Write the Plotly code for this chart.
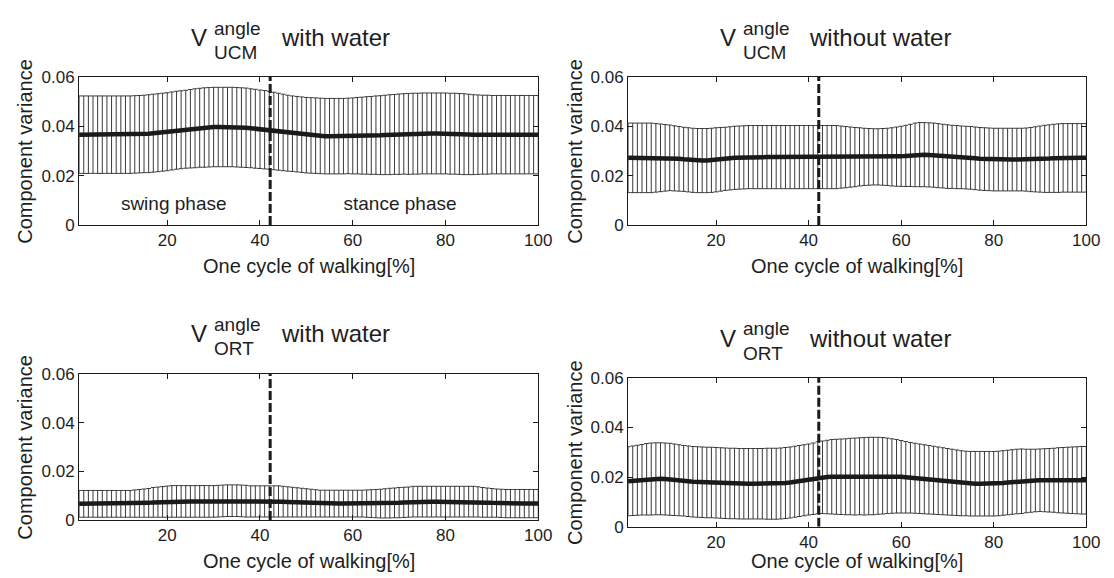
import plotly.graph_objects as go

W, H = 1114, 578

# ---------------- data ----------------
x_pct = list(range(1, 101))
x_tickvals = [20, 40, 60, 80, 100]
y_tickvals = [0, 0.02, 0.04, 0.06]
y_ticktext = ["0", "0.02", "0.04", "0.06"]
phase_boundary = 42.2
phase_labels = ["swing phase", "stance phase"]
phase_label_x = [21.4, 70.2]
phase_label_y = 0.0078

ucm_with_mean = (
    [0.0366] * 12 +
    [0.0367, 0.0368, 0.0369, 0.0370, 0.0372, 0.0374, 0.0376, 0.0378, 0.0381, 0.0384,
     0.0386, 0.0388, 0.0390, 0.0392, 0.0394, 0.0395, 0.0396, 0.0397] +
    [0.0397] * 4 +
    [0.0396, 0.0395, 0.0394, 0.0392, 0.0390, 0.0388, 0.0386, 0.0384, 0.0381, 0.0378,
     0.0375, 0.0372, 0.0370, 0.0368, 0.0366, 0.0364, 0.0363, 0.0362, 0.0361] +
    [0.0360] * 5 +
    [0.0361, 0.0361, 0.0362, 0.0362, 0.0363, 0.0363, 0.0364, 0.0364, 0.0365, 0.0366,
     0.0367, 0.0368, 0.0369, 0.0369, 0.0370, 0.0370] +
    [0.0371] * 6 +
    [0.0370, 0.0370, 0.0369, 0.0368, 0.0367] +
    [0.0366] * 15
)
ucm_with_sd = (
    [0.0157] * 15 +
    [0.0158] * 9 +
    [0.0159, 0.0160, 0.0160, 0.0161, 0.0161] +
    [0.0161] * 8 +
    [0.0160, 0.0160, 0.0159, 0.0159] +
    [0.0158, 0.0157, 0.0156, 0.0155, 0.0154] +
    [0.0153] * 13 +
    [0.0154, 0.0155, 0.0156, 0.0157, 0.0158, 0.0159] +
    [0.0160, 0.0161, 0.0162, 0.0162, 0.0163, 0.0163, 0.0164] +
    [0.0164] * 12 +
    [0.0163, 0.0162, 0.0161, 0.0160, 0.0160, 0.0159] +
    [0.0159] * 10
)

ucm_without_mean = (
    [0.0272] * 10 +
    [0.0270, 0.0268, 0.0266, 0.0264, 0.0262] +
    [0.0261, 0.0261, 0.0261, 0.0262] +
    [0.0264, 0.0266, 0.0268, 0.0270, 0.0272] +
    [0.0273, 0.0274, 0.0275, 0.0275, 0.0275] +
    [0.0275] * 21 +
    [0.0276] * 8 +
    [0.0277, 0.0278, 0.0280, 0.0282, 0.0284] +
    [0.0285, 0.0285, 0.0284, 0.0283] +
    [0.0281, 0.0279, 0.0277, 0.0276, 0.0275, 0.0274, 0.0273] +
    [0.0272, 0.0270, 0.0268, 0.0267, 0.0266] +
    [0.0265] * 9 +
    [0.0266, 0.0267, 0.0268, 0.0269, 0.0270, 0.0271] +
    [0.0272] * 6
)
ucm_without_sd = (
    [0.0141] * 6 +
    [0.0139, 0.0137, 0.0135, 0.0133, 0.0132, 0.0131] +
    [0.0130] * 8 +
    [0.0129, 0.0128, 0.0128, 0.0128, 0.0128] +
    [0.0128] * 21 +
    [0.0126, 0.0124, 0.0122, 0.0120, 0.0118] +
    [0.0116, 0.0115, 0.0114, 0.0114, 0.0115, 0.0116] +
    [0.0118, 0.0120, 0.0122, 0.0124, 0.0126] +
    [0.0129, 0.0130, 0.0130, 0.0130, 0.0130, 0.0130, 0.0129, 0.0129, 0.0128, 0.0128] +
    [0.0127] * 14 +
    [0.0128, 0.0130, 0.0132, 0.0134, 0.0136, 0.0137, 0.0138] +
    [0.0139] * 7
)

ort_with_mean = (
    [0.0066] * 12 +
    [0.0067, 0.0068, 0.0069, 0.0070, 0.0072, 0.0073, 0.0074, 0.0075] +
    [0.0076] * 10 +
    [0.0077, 0.0078, 0.0079, 0.0079, 0.0079, 0.0078, 0.0077] +
    [0.0076] * 7 +
    [0.0075, 0.0074, 0.0073, 0.0072, 0.0071, 0.0070, 0.0069, 0.0068] +
    [0.0067] * 14 +
    [0.0068, 0.0069, 0.0070, 0.0071, 0.0072, 0.0073] +
    [0.0075] * 14 +
    [0.0074, 0.0072, 0.0071, 0.0070, 0.0069, 0.0068] +
    [0.0067] * 8
)
ort_with_sd = (
    [0.0055] * 12 +
    [0.0056, 0.0057, 0.0058, 0.0059, 0.0061, 0.0062, 0.0063, 0.0064] +
    [0.0065] * 17 +
    [0.0064] * 7 +
    [0.0063, 0.0062, 0.0061, 0.0060, 0.0059, 0.0058, 0.0057, 0.0056] +
    [0.0055] * 10 +
    [0.0056, 0.0057, 0.0058, 0.0059, 0.0060, 0.0061, 0.0061, 0.0062, 0.0062, 0.0062] +
    [0.0063] * 14 +
    [0.0062, 0.0061, 0.0060, 0.0059, 0.0058, 0.0058] +
    [0.0058] * 8
)

ort_without_mean = (
    [0.0183, 0.0185, 0.0187, 0.0189] +
    [0.0191, 0.0192, 0.0193, 0.0193, 0.0192, 0.0191, 0.0189] +
    [0.0187, 0.0185, 0.0183, 0.0181, 0.0180] +
    [0.0179, 0.0178, 0.0178, 0.0177, 0.0176, 0.0175, 0.0174, 0.0174, 0.0173, 0.0173] +
    [0.0173] * 7 +
    [0.0174, 0.0176, 0.0178, 0.0181, 0.0184, 0.0187, 0.0190, 0.0193] +
    [0.0197, 0.0199, 0.0200] +
    [0.0201, 0.0201, 0.0201, 0.0201, 0.0202, 0.0202, 0.0203, 0.0203, 0.0204, 0.0204] +
    [0.0205, 0.0205, 0.0205, 0.0204] +
    [0.0203, 0.0201, 0.0199, 0.0197, 0.0195, 0.0193, 0.0191, 0.0189] +
    [0.0187, 0.0185, 0.0183, 0.0181, 0.0179, 0.0177, 0.0175, 0.0174] +
    [0.0173] * 6 +
    [0.0174, 0.0176, 0.0178, 0.0180, 0.0182, 0.0183, 0.0184, 0.0185, 0.0186] +
    [0.0187] * 11
)
ort_without_sd = (
    [0.0139, 0.0140, 0.0141, 0.0142] +
    [0.0144, 0.0145, 0.0145, 0.0145, 0.0145, 0.0145, 0.0144, 0.0143] +
    [0.0142] * 18 +
    [0.0143] * 10 +
    [0.0144, 0.0145, 0.0146, 0.0148, 0.0150, 0.0151] +
    [0.0152, 0.0153, 0.0154, 0.0155, 0.0155, 0.0156, 0.0156, 0.0156, 0.0155, 0.0154, 0.0152] +
    [0.0150, 0.0148, 0.0146, 0.0144, 0.0142, 0.0141, 0.0140, 0.0139, 0.0138] +
    [0.0137, 0.0136, 0.0135, 0.0134, 0.0133, 0.0132, 0.0131, 0.0130] +
    [0.0130] * 12 +
    [0.0128, 0.0127, 0.0126, 0.0126, 0.0127, 0.0128, 0.0129] +
    [0.0131, 0.0132, 0.0133, 0.0134, 0.0135, 0.0136, 0.0136]
)

# ---------------- layout helpers ----------------
FONT = "Liberation Sans, Arial, Helvetica, sans-serif"
TXT = "#1e1e1e"


def px_x(p):
    return p / W


def px_y(p):
    return 1 - p / H


panels = [
    dict(mean=ucm_with_mean, sd=ucm_with_sd, sub="UCM", cond="with water",
         box=(72, 537, 62, 215), vx=193.5, sx=207, cx=274, ty=21.5, phases=True, ytx=17, xty=257),
    dict(mean=ucm_without_mean, sd=ucm_without_sd, sub="UCM", cond="without water",
         box=(628, 1092, 62, 215), vx=729, sx=742, cx=809, ty=21.5, phases=False, ytx=574, xty=257),
    dict(mean=ort_with_mean, sd=ort_with_sd, sub="ORT", cond="with water",
         box=(72, 537, 369, 520), vx=193.5, sx=207, cx=274, ty=327.5, phases=False, ytx=17, xty=563),
    dict(mean=ort_without_mean, sd=ort_without_sd, sub="ORT", cond="without water",
         box=(628, 1092, 373, 527), vx=729, sx=742, cx=809, ty=332.5, phases=False, ytx=574, xty=562),
]

fig = go.Figure()
annotations = []
layout_axes = {}

for i, p in enumerate(panels, start=1):
    xa = "x" if i == 1 else f"x{i}"
    ya = "y" if i == 1 else f"y{i}"
    xkey = "xaxis" if i == 1 else f"xaxis{i}"
    ykey = "yaxis" if i == 1 else f"yaxis{i}"
    l, r, t, b = p["box"]

    # error bars (mean +/- sd)
    fig.add_trace(go.Scatter(
        x=x_pct, y=p["mean"], mode="markers", xaxis=xa, yaxis=ya,
        marker=dict(size=1, color="rgba(0,0,0,0)"),
        error_y=dict(type="data", array=p["sd"], visible=True,
                     color="#3a3a3a", thickness=1, width=2.35),
        showlegend=False, hoverinfo="skip"))
    # mean line
    fig.add_trace(go.Scatter(
        x=x_pct, y=p["mean"], mode="lines", xaxis=xa, yaxis=ya,
        line=dict(color="#1a1a1a", width=4.5), showlegend=False))
    # phase boundary
    fig.add_trace(go.Scatter(
        x=[phase_boundary, phase_boundary], y=[y_tickvals[0], y_tickvals[-1]],
        mode="lines", xaxis=xa, yaxis=ya,
        line=dict(color="#1a1a1a", width=3, dash="9px,3px"), showlegend=False))

    if p["phases"]:
        fig.add_trace(go.Scatter(
            x=phase_label_x, y=[phase_label_y] * 2, mode="text", text=phase_labels,
            textfont=dict(family=FONT, size=19, color=TXT), xaxis=xa, yaxis=ya,
            showlegend=False))

    common = dict(showline=True, linecolor="#1a1a1a", linewidth=1, mirror="ticks",
                  ticks="inside", ticklen=5, tickcolor="#1a1a1a", showgrid=False,
                  zeroline=False, tickfont=dict(family=FONT, size=17, color=TXT))
    layout_axes[xkey] = dict(domain=[px_x(l), px_x(r)], range=[1, 100], anchor=ya,
                             tickvals=x_tickvals, **common)
    layout_axes[ykey] = dict(domain=[px_y(b), px_y(t)], range=[0, 0.06], anchor=xa,
                             tickvals=y_tickvals, ticktext=y_ticktext, **common)

    # title pieces: V^{angle}_{sub} cond
    annotations += [
        dict(text="V", x=px_x(p["vx"]), y=px_y(p["ty"]), xanchor="center", yanchor="middle",
             font=dict(family=FONT, size=24, color=TXT)),
        dict(text="angle", x=px_x(p["sx"]), y=px_y(p["ty"] - 10), xanchor="left", yanchor="middle",
             font=dict(family=FONT, size=19, color=TXT)),
        dict(text=p["sub"], x=px_x(p["sx"]), y=px_y(p["ty"] + 15), xanchor="left", yanchor="middle",
             font=dict(family=FONT, size=19, color=TXT)),
        dict(text=p["cond"], x=px_x(p["cx"]), y=px_y(p["ty"]), xanchor="left", yanchor="middle",
             font=dict(family=FONT, size=24, color=TXT)),
        dict(text="Component variance", x=px_x(p["ytx"]), y=px_y((t + b) / 2), textangle=-90,
             xanchor="center", yanchor="middle", font=dict(family=FONT, size=20, color=TXT)),
        dict(text="One cycle of walking[%]", x=px_x((l + r) / 2), y=px_y(p["xty"]),
             xanchor="center", yanchor="middle", font=dict(family=FONT, size=20, color=TXT)),
    ]

for a in annotations:
    a.update(xref="paper", yref="paper", showarrow=False)

fig.update_layout(
    width=W, height=H, margin=dict(l=0, r=0, t=0, b=0),
    paper_bgcolor="white", plot_bgcolor="white",
    annotations=annotations, showlegend=False, **layout_axes)

fig.write_html("out.html")
